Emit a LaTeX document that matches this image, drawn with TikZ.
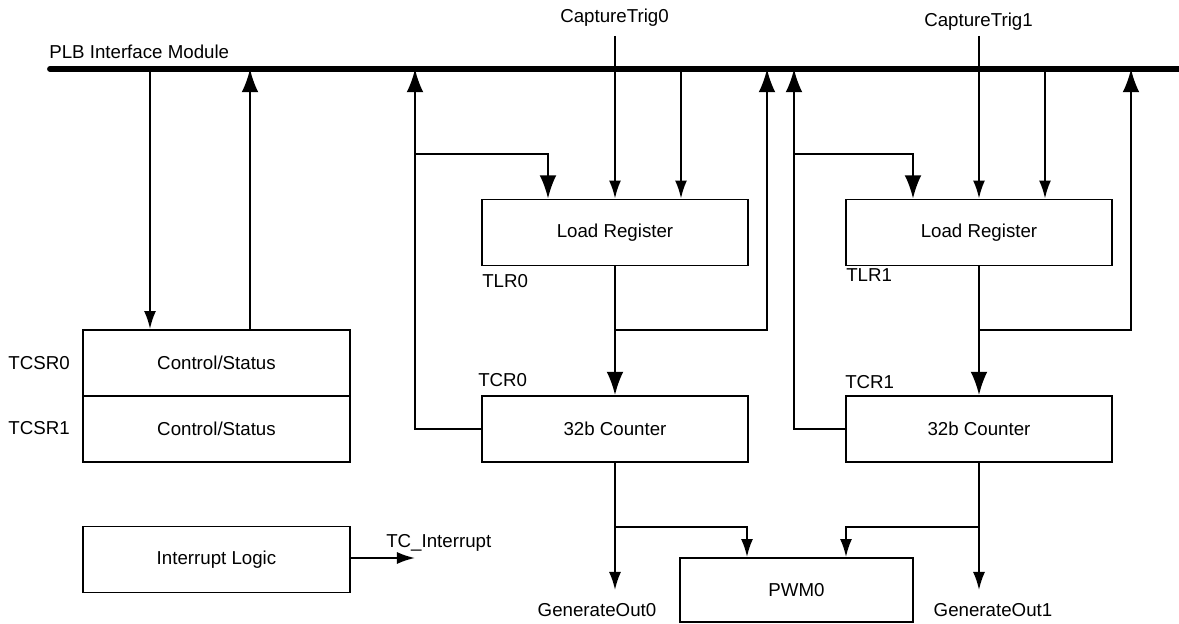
\documentclass[tikz,border=0pt]{standalone}
\usepackage{fontspec}
\setmainfont{Liberation Sans}
\usetikzlibrary{arrows.meta}

\tikzset{
  blk/.style={draw, line width=1.4pt, inner sep=0pt, minimum width=6.65cm, minimum height=1.65cm,
    font=\fontsize{13.3}{16}\selectfont},
  lbl/.style={inner sep=0pt, font=\fontsize{13.3}{16}\selectfont},
  wire/.style={line width=1.4pt},
  sarr/.style={wire, -{Latex[length=0.45cm,width=0.3cm]}},
  barr/.style={wire, -{Latex[length=0.58cm,width=0.42cm]}},
  bus/.style={line width=4.2pt, line cap=round},
}

\begin{document}
\begin{tikzpicture}[x=0.025cm, y=-0.025cm]
\useasboundingbox (0,0) rectangle (1179,624);

%bus
\draw[bus] (50,69) -- (1185,69);
\node[lbl, anchor=south west] (plb) at (49,59) {PLB Interface Module};

%blocks
\node[blk] (tcsr0) at (216.5,363) {Control/Status};
\node[blk] (tcsr1) at (216.5,429) {Control/Status};
\node[blk] (intr) at (216.5,559.5) {Interrupt Logic};
\node[blk] (lr0) at (615,232.5) {Load Register};
\node[blk] (cnt0) at (615,429) {32b Counter};
\node[blk] (lr1) at (979,232.5) {Load Register};
\node[blk] (cnt1) at (979,429) {32b Counter};
\node[blk, minimum width=5.825cm, minimum height=1.6cm] (pwm) at (796.5,590) {PWM0};

%register names
\node[lbl, anchor=east] (ntcsr0) at (70,363) {TCSR0};
\node[lbl, anchor=east] (ntcsr1) at (70,428) {TCSR1};
\node[lbl, anchor=west] (ntlr0) at (482,281) {TLR0};
\node[lbl, anchor=west] (ntlr1) at (846,275) {TLR1};
\node[lbl, anchor=west] (ntcr0) at (478,380) {TCR0};
\node[lbl, anchor=west] (ntcr1) at (845,382) {TCR1};

%signals
\node[lbl] (trig0) at (614.5,18) {CaptureTrig0};
\node[lbl] (trig1) at (978.5,22) {CaptureTrig1};
\node[lbl] (gen0) at (597,610) {GenerateOut0};
\node[lbl] (gen1) at (993,610) {GenerateOut1};
\node[lbl, anchor=west] (tcint) at (386,543) {TC\_Interrupt};

%points on the bus
\coordinate (b1) at (150,69);
\coordinate (b2) at (250,69);
\coordinate (b3) at (415,69);
\coordinate (b4) at (681,69);
\coordinate (b5) at (767,69);
\coordinate (b6) at (794,69);
\coordinate (b7) at (1045,69);
\coordinate (b8) at (1131,69);

%control/status
\draw[sarr] (b1) -- (b1 |- tcsr0.north);
\draw[barr] (b2 |- tcsr0.north) -- (b2);
\coordinate (ti) at (415,558);
\draw[sarr] (intr.east |- ti) -- (ti);

%timer 0
\coordinate (t0) at (615,36);
\draw[sarr] (t0) -- (t0 |- lr0.north);
\draw[sarr] (b4) -- (b4 |- lr0.north);
\draw[barr] (cnt0.west) -| (b3);
\coordinate (j0) at (415,154);
\coordinate (p0) at (548,154);
\draw[barr] (j0) -- (p0) -- (p0 |- lr0.north);
\draw[barr] (lr0.south) -- (cnt0.north);
\coordinate (k0) at (615,330);
\draw[barr] (k0) -| (b5);
\coordinate (g0) at (615,590);
\draw[sarr] (cnt0.south) -- (g0);
\coordinate (m0) at (615,527);
\coordinate (q0) at (747,527);
\draw[sarr] (m0) -- (q0) -- (q0 |- pwm.north);

%timer 1
\coordinate (t1) at (979,36);
\draw[sarr] (t1) -- (t1 |- lr1.north);
\draw[sarr] (b7) -- (b7 |- lr1.north);
\draw[barr] (cnt1.west) -| (b6);
\coordinate (j1) at (794,154);
\coordinate (p1) at (913,154);
\draw[barr] (j1) -- (p1) -- (p1 |- lr1.north);
\draw[barr] (lr1.south) -- (cnt1.north);
\coordinate (k1) at (979,330);
\draw[barr] (k1) -| (b8);
\coordinate (g1) at (979,590);
\draw[sarr] (cnt1.south) -- (g1);
\coordinate (m1) at (979,527);
\coordinate (q1) at (846,527);
\draw[sarr] (m1) -- (q1) -- (q1 |- pwm.north);

\end{tikzpicture}
\end{document}
